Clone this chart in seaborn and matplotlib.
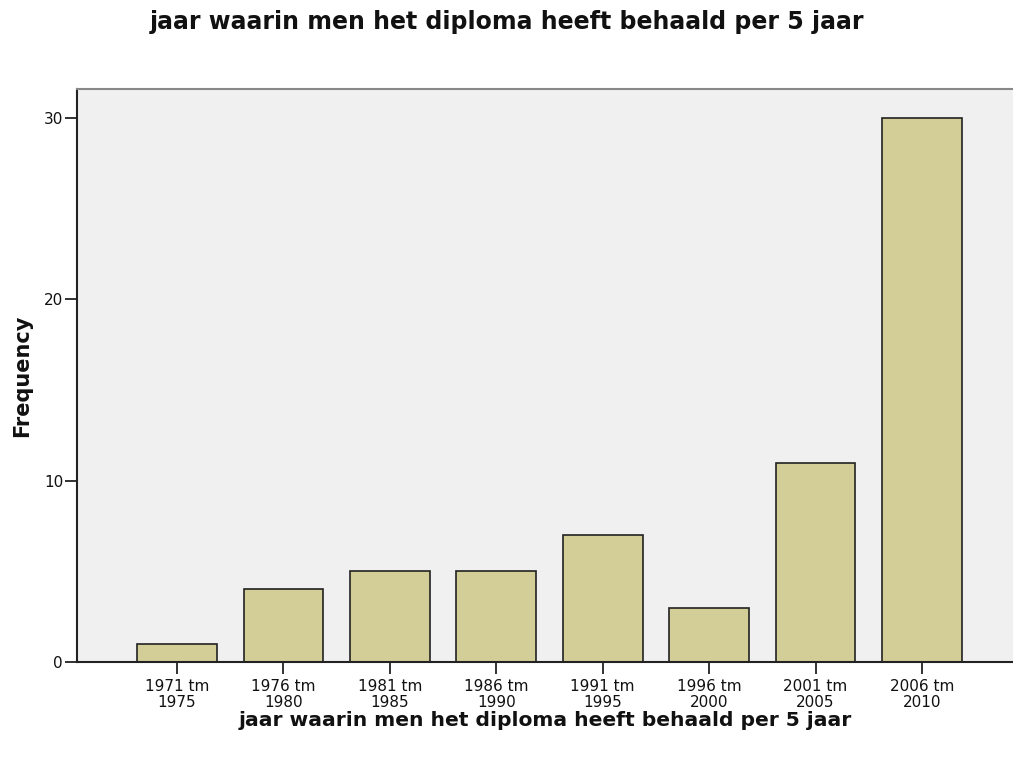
import pandas as pd
import matplotlib
matplotlib.use('Agg')
import matplotlib.pyplot as plt
import seaborn as sns

# Data
periods = ['1971 tm\n1975', '1976 tm\n1980', '1981 tm\n1985', '1986 tm\n1990',
           '1991 tm\n1995', '1996 tm\n2000', '2001 tm\n2005', '2006 tm\n2010']
frequency = [1, 4, 5, 5, 7, 3, 11, 30]
y_ticks = [0, 10, 20, 30]

title = 'jaar waarin men het diploma heeft behaald per 5 jaar'

df = pd.DataFrame({'period': periods, 'frequency': frequency})

sns.set_style('white')
plt.rcParams['font.family'] = ['DejaVu Sans']

fig = plt.figure(figsize=(10.13, 7.59), dpi=100)
# axes from x=77px to the right edge, y=89px to 662px
ax = fig.add_axes([77 / 1013, 97 / 759, 936 / 1013, 573 / 759])
ax.set_facecolor('#F0F0F0')

sns.barplot(data=df, x='period', y='frequency', color='#D3CE97', width=0.75,
            edgecolor='#222222', linewidth=1.2, saturation=1, ax=ax)

ax.set_xlim(-0.94, 7.855)
ax.set_ylim(0, 31.6)
ax.set_yticks(y_ticks)
ax.tick_params(axis='both', which='both', direction='out', length=8.5, width=1.3,
               color='#222222', labelsize=11, labelcolor='#111111',
               left=True, bottom=True)
ax.tick_params(axis='y', pad=1.5)
ax.tick_params(axis='x', pad=4)
for lbl in ax.get_xticklabels():
    lbl.set_linespacing(1.05)

for side in ['left', 'bottom']:
    ax.spines[side].set_color('#222222')
    ax.spines[side].set_linewidth(1.5)
ax.spines['top'].set_color('#888888')
ax.spines['top'].set_linewidth(1.5)
ax.spines['right'].set_visible(False)

ax.set_xlabel(title, fontsize=14.6, fontweight='bold', color='#111111', labelpad=1)
ax.set_ylabel('Frequency', fontsize=15, fontweight='bold', color='#111111', labelpad=8)
fig.text(0.5, 1 - 22 / 759, title, ha='center', va='center',
         fontsize=17, fontweight='bold', color='#111111')

fig.savefig('out.png', dpi=100)
